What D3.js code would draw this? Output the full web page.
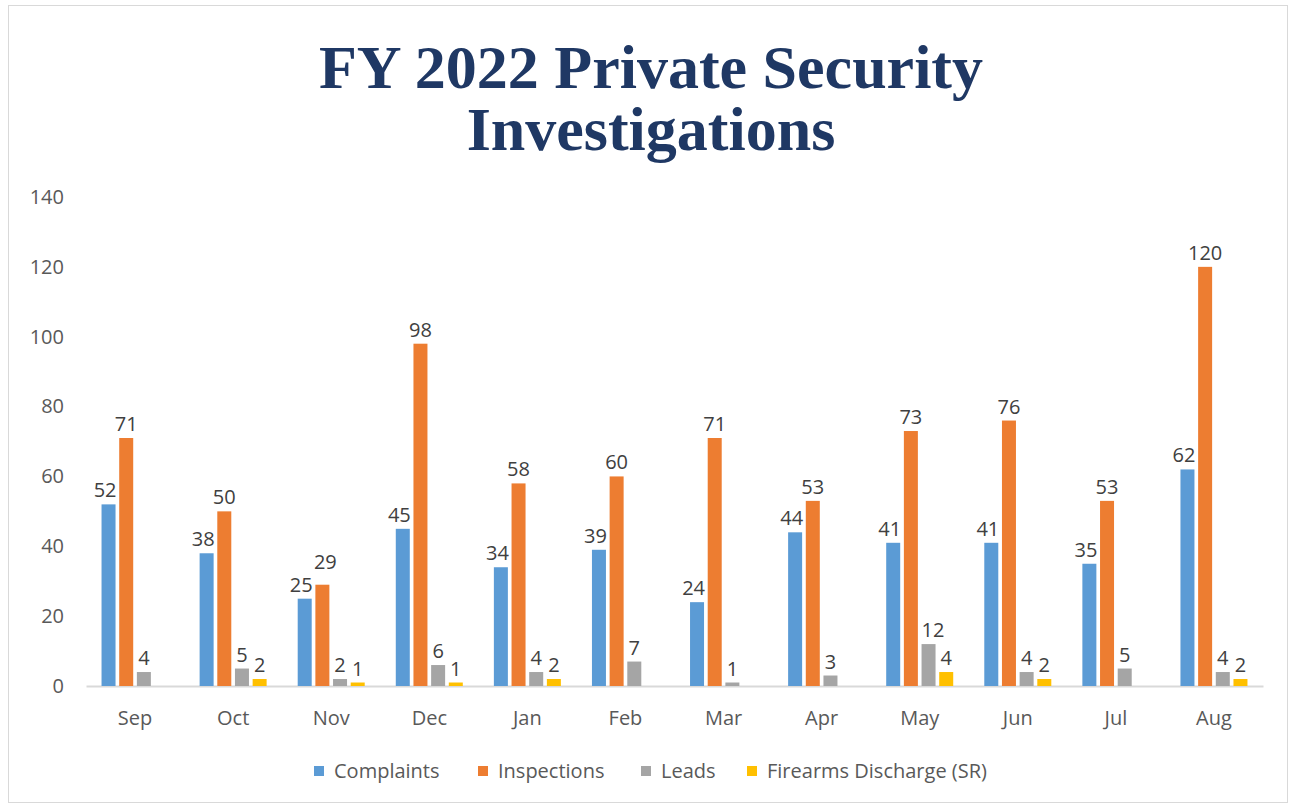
<!DOCTYPE html>
<html>
<head>
<meta charset="utf-8">
<script src="https://cdn.jsdelivr.net/npm/d3@7/dist/d3.min.js"></script>
<style>
  body { margin: 0; background: #fff; }
  svg { display: block; }
</style>
</head>
<body>
<svg id="chart" width="1291" height="805"></svg>
<script>
const months = ['Sep','Oct','Nov','Dec','Jan','Feb','Mar','Apr','May','Jun','Jul','Aug']
const seriesNames = ['Complaints','Inspections','Leads','Firearms Discharge (SR)']
const seriesColors = ['#5b9bd5','#ed7d31','#a5a5a5','#ffc000']

const complaints  = [52,38,25,45,34,39,24,44,41,41,35,62]
const inspections = [71,50,29,98,58,60,71,53,73,76,53,120]
const leads       = [4,5,2,6,4,7,1,3,12,4,5,4]
const firearms    = [null,2,1,1,2,null,null,null,4,2,null,2]

const yTicks = [0,20,40,60,80,100,120,140]

const series = [complaints, inspections, leads, firearms]

const svg = d3.select('#chart')
const margin = { top: 197, left: 86, right: 28, bottom: 119 }
const W = 1291, H = 805
const width = W - margin.left - margin.right
const height = H - margin.top - margin.bottom

// frame
svg.append('rect')
  .attr('x', 8.5).attr('y', 5.5)
  .attr('width', W - 12).attr('height', H - 8)
  .attr('fill', 'none').attr('stroke', '#d9d9d9').attr('stroke-width', 1)

// title
const title = svg.append('text')
  .attr('text-anchor', 'middle')
  .attr('fill', '#1f3864')
  .style('font-family', '"Liberation Serif", "DejaVu Serif", serif')
  .style('font-weight', 'bold')
  .style('font-size', '62px')
title.append('tspan').attr('x', 651).attr('y', 88).text('FY 2022 Private Security')
title.append('tspan').attr('x', 651).attr('y', 150).text('Investigations')

const g = svg.append('g').attr('transform', `translate(${margin.left},${margin.top})`)

const x0 = d3.scaleBand().domain(months).range([0, width]).padding(0)
const slot = 17.67
const barW = 14
const x1 = d3.scaleBand().domain(d3.range(4))
  .range([x0.bandwidth()/2 - 2*slot, x0.bandwidth()/2 + 2*slot])
const y = d3.scaleLinear().domain([0, 140]).range([height, 0])

const font = '"Open Sans", "Noto Sans", sans-serif'

// y axis labels
const yAxis = g.append('g')
  .attr('transform', 'translate(-22,0)')
  .call(d3.axisLeft(y).tickValues(yTicks).tickSize(0).tickPadding(0))
yAxis.select('.domain').remove()
yAxis.selectAll('.tick text')
  .style('font-family', font).style('font-size', '20px').attr('fill', '#595959')

// x axis
const xAxis = g.append('g')
  .attr('transform', `translate(0,${height})`)
  .call(d3.axisBottom(x0).tickSize(0).tickPadding(25))
xAxis.select('.domain').attr('stroke', '#d9d9d9').attr('stroke-width', 2)
xAxis.selectAll('.tick text')
  .style('font-family', font).style('font-size', '20px').attr('fill', '#595959')

// bars
const rows = months.map((m, i) => ({ month: m, values: series.map((s, k) => ({ k, v: s[i] })) }))

const grp = g.append('g').selectAll('g')
  .data(rows).join('g')
  .attr('transform', d => `translate(${x0(d.month)},0)`)

const barX = k => x1(k) + (slot - barW)/2

grp.selectAll('rect')
  .data(d => d.values.filter(e => e.v != null))
  .join('rect')
  .attr('x', d => barX(d.k))
  .attr('y', d => y(d.v))
  .attr('width', barW)
  .attr('height', d => y(0) - y(d.v))
  .attr('fill', d => seriesColors[d.k])

// data labels: keep clear of taller neighbouring bars, like the spreadsheet does
grp.each(function(row) {
  const vals = row.values
  const boxes = []
  vals.forEach((e, k) => {
    if (e.v == null) return
    const t = d3.select(this).append('text')
      .style('font-family', font).style('font-size', '20px')
      .attr('fill', '#404040')
      .text(e.v)
    const w = t.node().getComputedTextLength()
    let cx = barX(k) + barW/2
    let base = y(e.v) - 7
    const right = vals[k+1], left = vals[k-1]
    if (right && right.v != null && right.v > e.v && cx + w/2 > barX(k+1)) {
      cx = barX(k) + barW - w/2 + 1
    } else if (left && left.v != null && left.v > e.v && cx - w/2 < barX(k-1) + barW) {
      cx = barX(k) + w/2
    }
    const prev = boxes[boxes.length - 1]
    if (prev && cx - w/2 < prev.x1 && Math.abs(base - prev.base) < 20) {
      base = prev.base - 23
      cx += 3
    }
    boxes.push({ x1: cx + w/2, base })
    t.attr('x', cx).attr('y', base).attr('text-anchor', 'middle')
  })
})

// legend
const legendX = [314, 478, 641, 747]
const legend = svg.append('g').selectAll('g')
  .data(seriesNames).join('g')
  .attr('transform', (d, i) => `translate(${legendX[i]},766)`)
legend.append('rect')
  .attr('width', 10).attr('height', 10)
  .attr('fill', (d, i) => seriesColors[i])
legend.append('text')
  .attr('x', 20).attr('y', 12)
  .style('font-family', font).style('font-size', '20px')
  .attr('fill', '#595959')
  .text(d => d)
</script>
</body>
</html>
